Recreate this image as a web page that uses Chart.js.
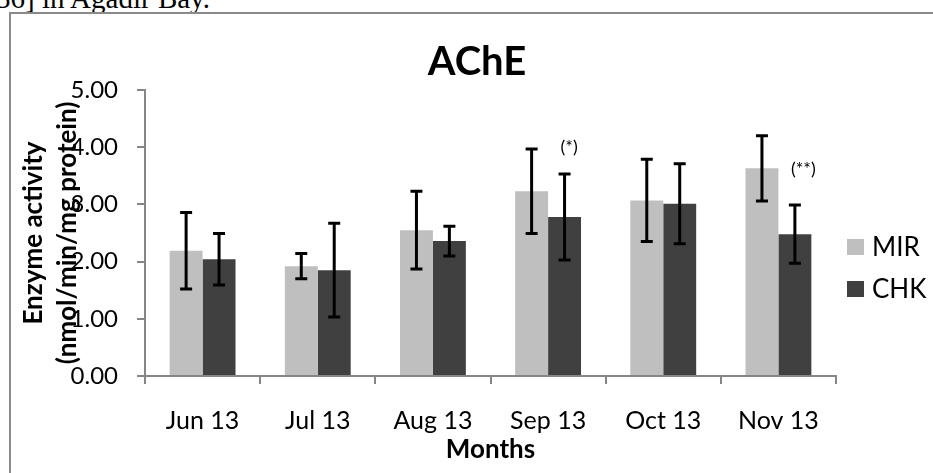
<!DOCTYPE html>
<html>
<head>
<meta charset="utf-8">
<script src="https://cdn.jsdelivr.net/npm/chart.js@4.4.1/dist/chart.umd.min.js"></script>
<style>
  html, body { margin: 0; padding: 0; background: #fff; overflow: hidden; width: 933px; height: 473px; }
  #caption { position: absolute; left: -4px; top: -16px; font-family: "Liberation Serif", "Times New Roman", serif; font-size: 29px; line-height: 29px; color: #000; white-space: nowrap; }
  #frame { position: absolute; left: 9px; top: 12px; width: 1000px; height: 600px; border: 2px solid #8a8a8a; }
  #c { position: absolute; left: 0; top: 0; }
</style>
</head>
<body>
<div id="caption">36] in Agadir Bay.</div>
<div id="frame"></div>
<canvas id="c" width="933" height="473"></canvas>
<script>
const months = ['Jun 13', 'Jul 13', 'Aug 13', 'Sep 13', 'Oct 13', 'Nov 13'];
const mirValues = [2.19, 1.92, 2.55, 3.23, 3.07, 3.63];
const mirErrors = [0.67, 0.22, 0.68, 0.74, 0.72, 0.57];
const chkValues = [2.04, 1.85, 2.36, 2.78, 3.01, 2.48];
const chkErrors = [0.45, 0.82, 0.26, 0.75, 0.70, 0.51];
const chkSignif = ['', '', '', '(*)', '', '(**)'];
const chkSignifLevel = [null, null, null, 4.0, null, 3.61];
const yTicks = [0, 1, 2, 3, 4, 5];

const AXIS = '#868686';
const FONT = 'Lato';

const errorBars = {
  id: 'errorBars',
  afterDatasetsDraw(chart) {
    const ctx = chart.ctx;
    const y = chart.scales.y;
    ctx.save();
    ctx.strokeStyle = '#000';
    ctx.lineWidth = 3;
    chart.data.datasets.forEach((ds, i) => {
      const meta = chart.getDatasetMeta(i);
      meta.data.forEach((el, j) => {
        const v = ds.data[j], e = ds.errors[j];
        const yt = y.getPixelForValue(v + e), yb = y.getPixelForValue(v - e);
        const x = el.x;
        ctx.beginPath();
        ctx.moveTo(x, yt); ctx.lineTo(x, yb);
        ctx.moveTo(x - 6, yt); ctx.lineTo(x + 6, yt);
        ctx.moveTo(x - 6, yb); ctx.lineTo(x + 6, yb);
        ctx.stroke();
      });
    });
    // significance marks
    const meta = chart.getDatasetMeta(1);
    ctx.fillStyle = '#000';
    ctx.font = '18px ' + FONT;
    ctx.textAlign = 'left';
    ctx.textBaseline = 'middle';
    chkSignif.forEach((s, j) => {
      if (!s) return;
      ctx.fillText(s, meta.data[j].x - 4, y.getPixelForValue(chkSignifLevel[j]));
    });
    ctx.restore();
  }
};

const sideLegend = {
  id: 'sideLegend',
  afterDraw(chart) {
    const ctx = chart.ctx;
    const a = chart.chartArea;
    ctx.save();
    ctx.font = '26px ' + FONT;
    ctx.textAlign = 'left';
    ctx.textBaseline = 'middle';
    const baseY = [247, 289];
    chart.data.datasets.forEach((ds, i) => {
      const cy = baseY[i];
      ctx.fillStyle = ds.backgroundColor;
      ctx.fillRect(a.right + 11, cy - 8, 17, 16);
      ctx.fillStyle = '#000';
      ctx.fillText(ds.label, a.right + 36, cy + 1);
    });
    ctx.restore();
  }
};

new Chart(document.getElementById('c'), {
  type: 'bar',
  data: {
    labels: months,
    datasets: [
      { label: 'MIR', data: mirValues, errors: mirErrors, backgroundColor: '#BFBFBF', categoryPercentage: 0.572, barPercentage: 1.0 },
      { label: 'CHK', data: chkValues, errors: chkErrors, backgroundColor: '#404040', categoryPercentage: 0.572, barPercentage: 1.0 }
    ]
  },
  options: {
    responsive: false,
    animation: false,
    devicePixelRatio: 1,
    layout: { padding: { left: 21, right: 0, top: 0, bottom: 0 } },
    plugins: {
      legend: { display: false },
      tooltip: { enabled: false },
      title: {
        display: true, text: 'AChE', color: '#000',
        font: { family: FONT, size: 40, weight: 'bold', lineHeight: 1.2 },
        padding: { top: 38, bottom: 4 }
      }
    },
    scales: {
      x: {
        type: 'category',
        grid: { display: true, drawOnChartArea: false, drawTicks: true, tickLength: 8, color: AXIS, lineWidth: 2, offset: true },
        border: { display: true, color: AXIS, width: 2 },
        ticks: { color: '#000', font: { family: FONT, size: 25 }, padding: 22, maxRotation: 0, autoSkip: false },
        title: { display: true, text: 'Months', color: '#000', font: { family: FONT, size: 26, weight: 'bold', lineHeight: 1.2 }, padding: { top: 0, bottom: 8 } },
        afterFit(s) { s.height = 97; }
      },
      y: {
        type: 'linear', position: 'left', min: 0, max: 5,
        afterBuildTicks(s) { s.ticks = yTicks.map(v => ({ value: v })); },
        grid: { drawOnChartArea: false, drawTicks: true, tickLength: 8, color: AXIS, lineWidth: 2 },
        border: { display: true, color: AXIS, width: 2 },
        ticks: { color: '#000', font: { family: FONT, size: 24 }, padding: 19, callback: v => Number(v).toFixed(2) },
        title: { display: true, text: ['Enzyme activity', '(nmol/min/mg protein)'], color: '#000', font: { family: FONT, size: 26, weight: 'bold', lineHeight: 1.3 }, padding: { top: -4, bottom: 0 } },
        afterFit(s) { s.width = 124; }
      },
      yR: {
        type: 'linear', position: 'right', display: true,
        grid: { display: false }, border: { display: false }, ticks: { display: false },
        afterFit(s) { s.width = 97; }
      }
    }
  },
  plugins: [errorBars, sideLegend]
});
</script>
</body>
</html>
